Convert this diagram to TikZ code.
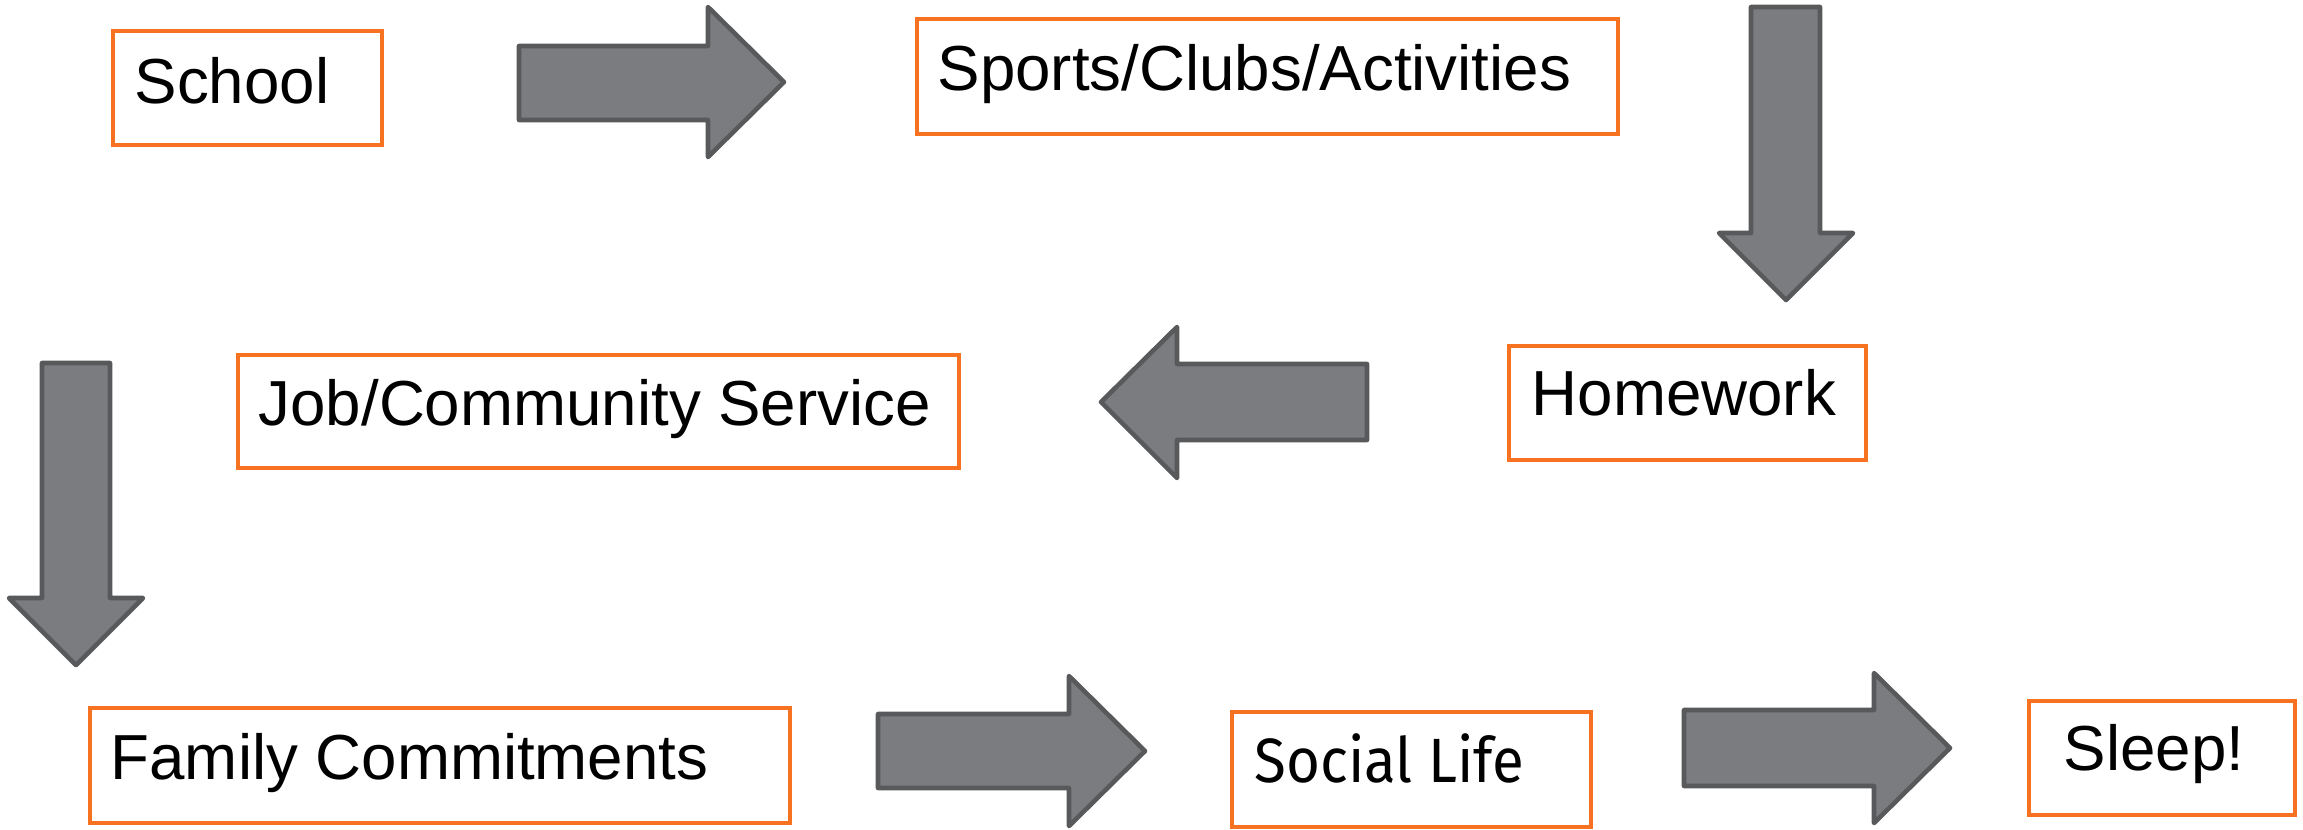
\documentclass[tikz,border=0pt]{standalone}
\usepackage{fontspec}
\setmainfont{Liberation Sans}
\newfontfamily\firafont{Fira Sans}
\usetikzlibrary{fit}
\definecolor{boxorange}{RGB}{246,114,32}
\definecolor{arrowfill}{RGB}{123,124,128}
\definecolor{arrowline}{RGB}{88,89,91}
\tikzset{
  box/.style={draw=boxorange, line width=1.0pt, inner sep=0pt, rectangle},
  lbl/.style={anchor=base west, inner sep=0pt, font=\fontsize{18.1pt}{20pt}\selectfont},
  lblfira/.style={anchor=base west, inner sep=0pt, font=\firafont\fontsize{17.8pt}{20pt}\selectfont},
  blockarrow/.style={fill=arrowfill, draw=arrowline, line width=1.3pt, line join=round}
}
\begin{document}
\begin{tikzpicture}[x=0.01cm, y=-0.01cm]
\useasboundingbox (0,0) rectangle (2303,829);
% boxes
\node[box, fit={(113,31) (382,145)}] (school) {};
\node[box, fit={(917,19) (1618,134)}] (sports) {};
\node[box, fit={(1509,346) (1866,460)}] (homework) {};
\node[box, fit={(238,355) (959,468)}] (job) {};
\node[box, fit={(90,708) (790,823)}] (family) {};
\node[box, fit={(1232,712) (1591,827)}] (social) {};
\node[box, fit={(2029,701) (2295,815)}] (sleep) {};
% labels
\node[lbl] (tschool) at (134,103) {School};
\node[lbl] (tsports) at (937,90) {Sports/Clubs/Activities};
\node[lbl] (thomework) at (1531,415) {Homework};
\node[lbl] (tjob) at (258,425) {Job/Community Service};
\node[lbl] (tfamily) at (110,779) {Family Commitments};
\node[lblfira] (tsocial) at (1254,782) {\scalebox{0.93}[1]{Social Life}};
\node[lbl] (tsleep) at (2063,770) {Sleep!};
% block arrows
\draw[blockarrow] (519,46) -- (708,46) -- (708,7) -- (784,82) -- (708,157) -- (708,120) -- (519,120) -- cycle;
\draw[blockarrow] (1751,7) -- (1820,7) -- (1820,233) -- (1853,233) -- (1786,300) -- (1719,233) -- (1751,233) -- cycle;
\draw[blockarrow] (1367,364) -- (1177,364) -- (1177,327) -- (1101,402) -- (1177,478) -- (1177,440) -- (1367,440) -- cycle;
\draw[blockarrow] (42,363) -- (110,363) -- (110,598) -- (143,598) -- (76,665) -- (9,598) -- (42,598) -- cycle;
\draw[blockarrow] (878,714) -- (1069,714) -- (1069,676) -- (1145,751) -- (1069,826) -- (1069,788) -- (878,788) -- cycle;
\draw[blockarrow] (1684,710) -- (1874,710) -- (1874,673) -- (1950,748) -- (1874,823) -- (1874,786) -- (1684,786) -- cycle;
\end{tikzpicture}
\end{document}
